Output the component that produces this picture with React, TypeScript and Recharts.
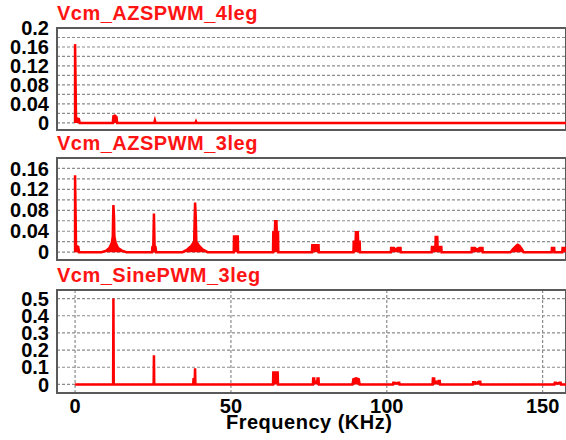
import React from 'react';
import { AreaChart, Area, XAxis, YAxis, CartesianGrid, ReferenceArea } from 'recharts';

// frequency axis (kHz)
const freqTicks = [0, 50, 100, 150];
const freqMin = -5.8;
const freqMax = 157.5;

// Vcm_AZSPWM_4leg spectrum
const freq4leg = [0, 0, 0.3, 1.2, 1.5, 12.1, 12.3, 12.8, 13.3, 13.5, 25.4, 25.6, 25.8, 38.6, 38.8, 39.0, 157.5];
const vcm4leg = [0, 0.166, 0.01, 0.008, 0, 0, 0.014, 0.015, 0.012, 0, 0, 0.005, 0, 0, 0.003, 0, 0];
const yTicks4leg = [0, 0.02, 0.04, 0.06, 0.08, 0.1, 0.12, 0.14, 0.16, 0.18, 0.2];
const yLabels4leg = ['0', '', '0.04', '', '0.08', '', '0.12', '', '0.16', '', '0.2'];

// Vcm_AZSPWM_3leg spectrum
const freq3leg = [
  0, 0, 0.3, 1.0, 1.3,
  8.5, 10, 11, 11.8, 12.1, 12.2, 12.3, 12.5, 12.6, 13, 13.8, 15, 16.5,
  24.7, 24.8, 25.1, 25.3, 25.5, 25.8, 26,
  34.5, 36, 37.3, 38.2, 38.4, 38.5, 38.7, 38.9, 39.8, 41, 42.5,
  50.9, 51, 52.2, 52.3,
  63.5, 63.6, 64.1, 64.2, 64.6, 64.7, 65.1, 65.2,
  76, 76.1, 76.8, 77.1, 77.4, 78.1, 78.2,
  89.3, 89.4, 90, 90.1, 90.7, 90.8, 91.3, 91.4,
  101.3, 101.4, 102.3, 102.8, 103.5, 104.4, 104.5,
  114.4, 114.5, 115.6, 115.7, 116.2, 116.3, 117.5, 117.6,
  127.2, 127.3, 128.3, 129, 129.8, 130.7, 130.8,
  139.7, 140.5, 141.5, 142, 142.6, 143.3, 143.9,
  152.9, 153, 153.7, 153.8,
  156.3, 156.4, 157.5,
];
const vcm3leg = [
  0, 0.147, 0.012, 0.01, 0,
  0, 0.003, 0.008, 0.018, 0.03, 0.065, 0.09, 0.065, 0.03, 0.018, 0.008, 0.003, 0,
  0, 0.01, 0.012, 0.074, 0.012, 0.01, 0,
  0, 0.005, 0.012, 0.02, 0.07, 0.095, 0.07, 0.02, 0.012, 0.005, 0,
  0, 0.03, 0.03, 0,
  0, 0.038, 0.038, 0.059, 0.059, 0.038, 0.038, 0,
  0, 0.013, 0.013, 0.006, 0.013, 0.013, 0,
  0, 0.02, 0.02, 0.038, 0.038, 0.02, 0.02, 0,
  0, 0.008, 0.008, 0.004, 0.008, 0.008, 0,
  0, 0.01, 0.01, 0.029, 0.029, 0.01, 0.01, 0,
  0, 0.008, 0.008, 0.004, 0.008, 0.008, 0,
  0, 0.006, 0.012, 0.014, 0.012, 0.006, 0,
  0, 0.008, 0.008, 0,
  0, 0.008, 0.008,
];
const yTicks3leg = [0, 0.02, 0.04, 0.06, 0.08, 0.1, 0.12, 0.14, 0.16, 0.18];
const yLabels3leg = ['0', '', '0.04', '', '0.08', '', '0.12', '', '0.16', ''];

// Vcm_SinePWM_3leg spectrum
const freqSine = [
  0,
  12.2, 12.3, 12.4,
  25.2, 25.3, 25.4,
  37.9, 38.0, 38.4, 38.5, 38.6,
  63.5, 63.6, 65.0, 65.1,
  76.3, 76.4, 76.7, 76.8, 77.7, 77.8, 78.1, 78.2,
  89, 89.3, 90.2, 91, 91.3,
  102, 102.1, 102.6, 103, 103.6, 104, 104.1,
  114.7, 114.8, 115.2, 115.3, 116.5, 116.6, 117, 117.1,
  127.6, 127.7, 128.3, 128.5, 129.5, 130, 130.1,
  153.8, 153.9, 154.3, 154.6, 155.3, 155.8, 155.9,
  157.5,
];
const vcmSine = [
  0,
  0, 0.5, 0,
  0, 0.17, 0,
  0, 0.03, 0.03, 0.094, 0,
  0, 0.07, 0.07, 0,
  0, 0.035, 0.035, 0.015, 0.015, 0.035, 0.035, 0,
  0, 0.03, 0.035, 0.03, 0,
  0, 0.01, 0.01, 0.005, 0.01, 0.01, 0,
  0, 0.035, 0.035, 0.015, 0.015, 0.02, 0.02, 0,
  0, 0.012, 0.012, 0.005, 0.015, 0.015, 0,
  0, 0.01, 0.01, 0.005, 0.01, 0.01, 0,
  0,
];
const yTicksSine = [0, 0.1, 0.2, 0.3, 0.4, 0.5];
const yLabelsSine = ['0', '0.1', '0.2', '0.3', '0.4', '0.5'];

const FONT = '"Liberation Sans", Arial, sans-serif';
const RED = '#ff0000';

type PanelProps = {
  title: string;
  top: number;
  height: number;
  marginTop: number;
  freqs: number[];
  values: number[];
  yDomain: [number, number];
  yTicks: number[];
  yLabels: string[];
  showX?: boolean;
};

function Panel({ title, top, height, marginTop, freqs, values, yDomain, yTicks, yLabels, showX }: PanelProps) {
  const data = freqs.map((f, i) => ({ f, v: values[i] }));
  return (
    <>
      <div
        style={{
          position: 'absolute',
          left: 57,
          top: top + marginTop - 25,
          fontFamily: FONT,
          fontWeight: 'bold',
          fontSize: 20,
          lineHeight: '20px',
          letterSpacing: 0.5,
          color: '#ff1414',
          whiteSpace: 'nowrap',
        }}
      >
        {title}
      </div>
      <div style={{ position: 'absolute', left: 0, top, width: 566, height }}>
        <AreaChart
          width={566}
          height={height}
          data={data}
          margin={{ top: marginTop, right: 0, bottom: showX ? 0 : 5, left: 0 }}
        >
          <CartesianGrid stroke="#8c8c8c" strokeDasharray="3 2" strokeWidth={1.2} />
          <XAxis
            dataKey="f"
            type="number"
            domain={[freqMin, freqMax]}
            allowDataOverflow
            ticks={freqTicks}
            axisLine={false}
            tickLine={false}
            tick={showX ? { fill: '#000', fontSize: 20, fontWeight: 'bold', fontFamily: FONT } : false}
            tickSize={6}
            tickMargin={0}
            height={showX ? 47 : 0}
            interval={0}
          />
          <YAxis
            type="number"
            domain={yDomain}
            allowDataOverflow
            ticks={yTicks}
            interval={0}
            width={57}
            axisLine={false}
            tickLine={false}
            tick={{ fill: '#000', fontSize: 20, fontWeight: 'bold', fontFamily: FONT }}
            tickFormatter={(_v: number, i: number) => yLabels[i]}
          />
          <ReferenceArea
            x1={freqMin}
            x2={freqMax}
            y1={yDomain[0]}
            y2={yDomain[1]}
            fill="none"
            stroke="#5a5a5a"
            strokeWidth={2}
            ifOverflow="visible"
          />
          <Area
            dataKey="v"
            type="linear"
            stroke={RED}
            strokeWidth={2.5}
            fill={RED}
            fillOpacity={1}
            dot={false}
            activeDot={false}
            isAnimationActive={false}
          />
        </AreaChart>
      </div>
    </>
  );
}

export default function App() {
  return (
    <div style={{ position: 'absolute', left: 0, top: 0, width: 566, height: 440, background: '#fff' }}>
      <Panel
        title="Vcm_AZSPWM_4leg"
        top={0}
        height={135}
        marginTop={28}
        freqs={freq4leg}
        values={vcm4leg}
        yDomain={[-0.015, 0.2]}
        yTicks={yTicks4leg}
        yLabels={yLabels4leg}
      />
      <Panel
        title="Vcm_AZSPWM_3leg"
        top={135}
        height={130}
        marginTop={23}
        freqs={freq3leg}
        values={vcm3leg}
        yDomain={[-0.015, 0.18]}
        yTicks={yTicks3leg}
        yLabels={yLabels3leg}
      />
      <Panel
        title="Vcm_SinePWM_3leg"
        top={265}
        height={175}
        marginTop={25}
        freqs={freqSine}
        values={vcmSine}
        yDomain={[-0.05, 0.55]}
        yTicks={yTicksSine}
        yLabels={yLabelsSine}
        showX
      />
      <div
        style={{
          position: 'absolute',
          left: 226,
          top: 412,
          fontFamily: FONT,
          fontWeight: 'bold',
          fontSize: 20,
          lineHeight: '20px',
          letterSpacing: 0.5,
          color: '#000',
          whiteSpace: 'nowrap',
        }}
      >
        Frequency (KHz)
      </div>
    </div>
  );
}
